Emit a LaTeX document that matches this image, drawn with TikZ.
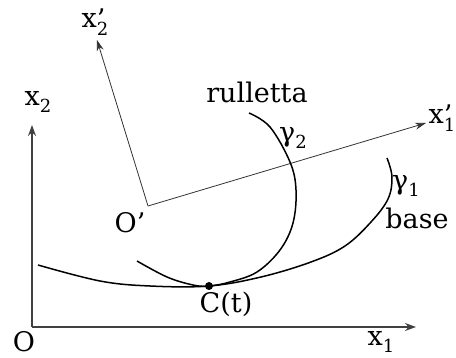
\documentclass[tikz,border=0pt]{standalone}
\usepackage{fontspec}
\setmainfont{DejaVu Serif}
\usetikzlibrary{arrows.meta}
\newcommand{\lfont}{\fontsize{27}{27}\selectfont}
\newcommand{\sfnt}{\fontsize{18}{18}\selectfont}
\newcommand{\sublab}[2]{#1\raisebox{-0.28em}{\sfnt #2}}
\newcommand{\primelab}[2]{#1\rlap{\raisebox{-0.02em}{’}}\raisebox{-0.28em}{\sfnt #2}}
\tikzset{
  axis/.style={draw=black!75, line width=1.4pt, -{Stealth[length=11pt,width=8pt]}},
  thinaxis/.style={draw=black!80, line width=0.8pt, -{Stealth[length=11pt,width=7pt]}},
  curve/.style={draw=black, line width=1.5pt},
  lbl/.style={font=\lfont, inner sep=0pt},
}
\begin{document}
\begin{tikzpicture}[x=1pt,y=-1pt]
\useasboundingbox (0,0) rectangle (456,358);
% coordinates
\coordinate (O) at (32,327);
\coordinate (X1) at (416,327);
\coordinate (X2) at (32,125);
\coordinate (Op) at (148,206);
\coordinate (X1p) at (426,123);
\coordinate (X2p) at (97,40);
% axes
\draw[axis] (O) -- (X1);
\draw[axis] (O) -- (X2);
\draw[thinaxis] (Op) -- (X1p);
\draw[thinaxis] (Op) -- (X2p);
% base curve
\draw[curve] plot[smooth, tension=0.6] coordinates {(38,265) (100,281) (150,286) (209,286) (261,277) (311,262) (345,246) (371,222) (388,199) (392,177) (387,158)};
% rulletta curve
\draw[curve] plot[smooth, tension=0.6] coordinates {(137,261) (167,277) (193,285) (209,286) (230,282) (257,272) (280,250) (293,223) (296,190) (290,162) (270,127) (249,113)};
% contact point
\node[circle, fill=black, inner sep=0pt, minimum size=8pt] (C) at (209,286) {};
% labels
\node[lbl] (lO) at (24,342) {O};
\node[lbl] (lOp) at (130,223) {O’};
\node[lbl] (lx1) at (381,342) {\sublab{x}{1}};
\node[lbl] (lx2) at (38,102) {\sublab{x}{2}};
\node[lbl] (lx1p) at (442,118) {\primelab{x}{1}};
\node[lbl] (lx2p) at (95,22) {\primelab{x}{2}};
\node[lbl, anchor=base] (lrul) at (257,103) {rulletta};
\node[lbl] (lg2) at (293,138) {\sublab{γ}{2}};
\node[lbl] (lg1) at (406,186) {\sublab{γ}{1}};
\node[lbl, anchor=base] (lbase) at (417,229) {base};
\node[lbl] (lC) at (226,304) {C(t)};
\end{tikzpicture}
\end{document}
